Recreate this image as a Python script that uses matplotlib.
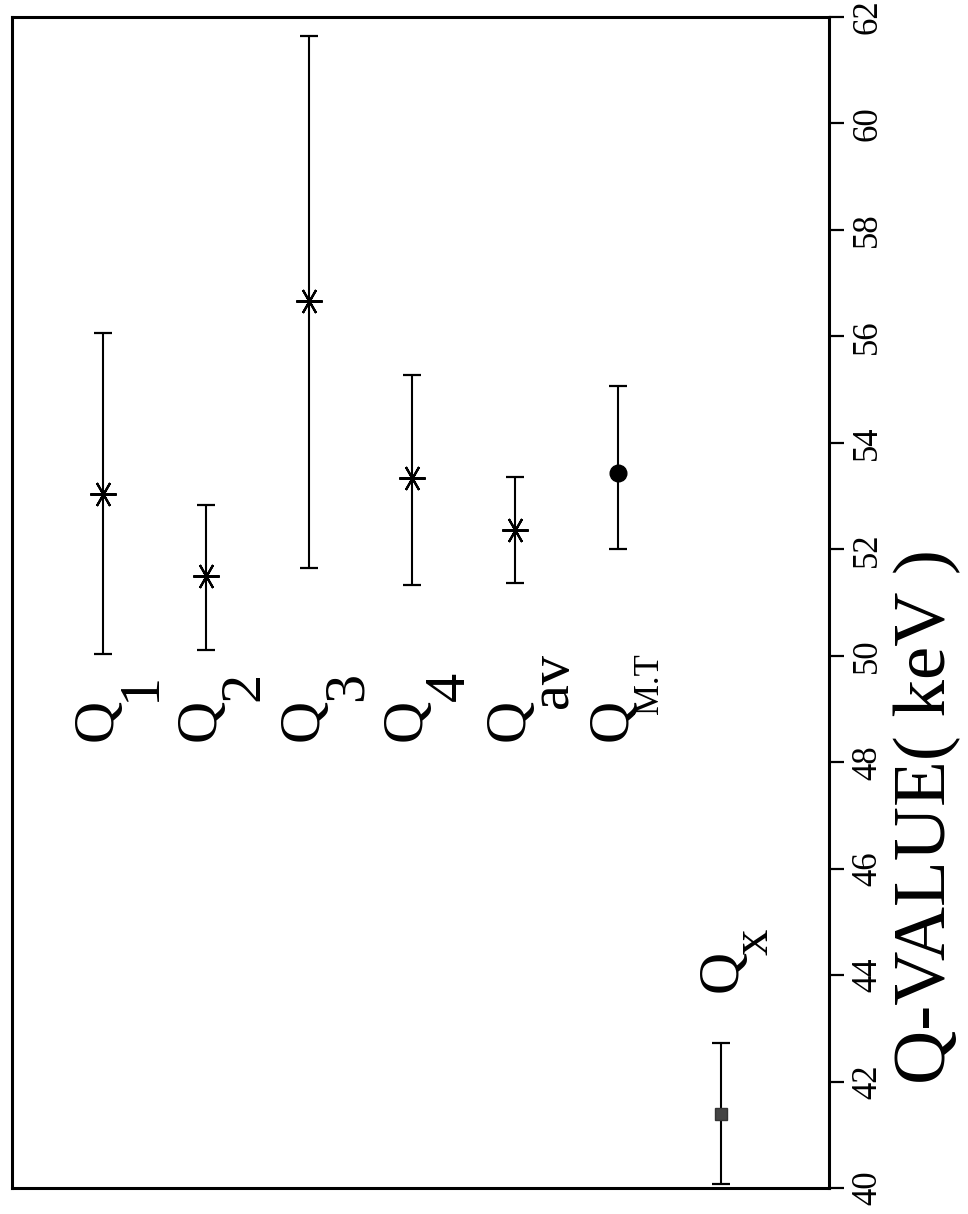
import matplotlib
matplotlib.use('Agg')
import matplotlib.pyplot as plt
import numpy as np

plt.rcParams['font.family'] = ['Liberation Serif', 'DejaVu Serif']

# ── data (Q-values in keV) ──
subscripts = ['1', '2', '3', '4', 'av', 'M.T', 'x']
q_center = [53.03, 51.50, 56.67, 53.33, 52.37, 53.44, 41.39]
q_upper = [56.07, 52.84, 61.64, 55.28, 53.35, 55.06, 42.73]
q_lower = [50.04, 50.11, 51.64, 51.33, 51.37, 52.01, 40.08]
marker_kind = ['star', 'star', 'star', 'star', 'star', 'circle', 'square']
ticks = [40, 42, 44, 46, 48, 50, 52, 54, 56, 58, 60, 62]

STAR = (6, 2, 90)

fig = plt.figure(figsize=(9.68, 12.14), dpi=100)
ax = fig.add_axes([12 / 968, 26 / 1214, 817 / 968, 1171 / 1214])

xs = np.arange(len(q_center))
for x, c, hi, lo, kind in zip(xs, q_center, q_upper, q_lower, marker_kind):
    if kind == 'star':
        mk = dict(marker=STAR, markersize=19, markeredgewidth=1.6, color='black')
    elif kind == 'circle':
        mk = dict(marker='o', markersize=12, color='black')
    else:
        mk = dict(marker='s', markersize=8, color='#444444', markeredgecolor='#333333')
    ax.errorbar([x], [c], yerr=[[c - lo], [hi - c]], fmt='none',
                ecolor='black', elinewidth=1.5, capsize=6.5, capthick=1.6)
    ax.plot([x], [c], linestyle='none', **mk)

# labels Q_i, written sideways like the axis
for x, sub in zip(xs, subscripts):
    if sub == 'x':
        ax.text(x + 0.02, 44.08, 'Q', fontsize=42, rotation=90,
                ha='center', va='center')
        ax.text(x + 0.33, 44.63, sub, fontsize=38, rotation=90,
                ha='center', va='center')
        continue
    ax.text(x - 0.05, 48.8, 'Q', fontsize=42, rotation=90,
            ha='center', va='center')
    if sub == 'M.T':
        ax.text(x + 0.31, 49.48, sub, fontsize=25, rotation=90,
                ha='center', va='center')
    elif sub == 'av':
        ax.text(x + 0.37, 49.54, sub, fontsize=42, rotation=90,
                ha='center', va='center')
    else:
        ax.text(x + 0.37, 49.42, sub, fontsize=42, rotation=90,
                ha='center', va='center')

ax.set_xlim(-0.8835, 7.049)
ax.set_ylim(40, 62)
ax.set_xticks([])
ax.set_yticks(ticks)
ax.yaxis.tick_right()
ax.tick_params(axis='y', direction='out', length=11, width=1.6,
               labelsize=25, pad=5, labelrotation=90)
for lbl in ax.get_yticklabels():
    lbl.set_va('center')
for sp in ax.spines.values():
    sp.set_linewidth(2.2)

ax.text(1.121, 0.317, 'Q-VALUE( keV )', transform=ax.transAxes,
        fontsize=54, rotation=90, ha='center', va='center')

fig.savefig('out.png', dpi=100, facecolor='white')
